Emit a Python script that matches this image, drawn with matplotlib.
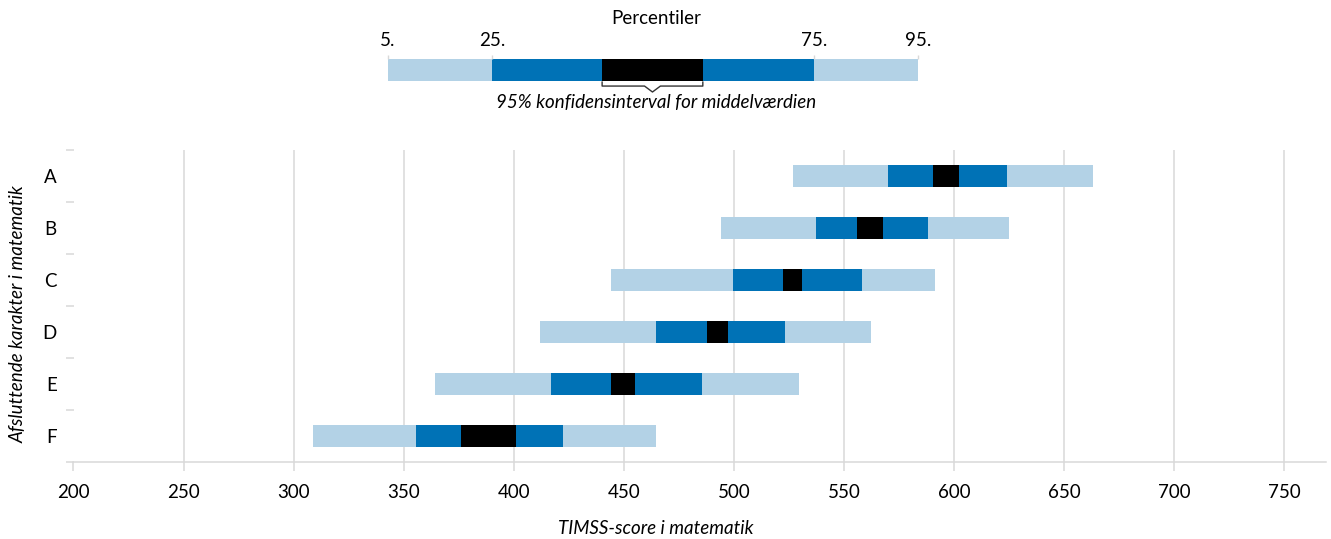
import matplotlib.pyplot as plt
import numpy as np

plt.rcParams.update({
    "font.family": ["Lato", "DejaVu Sans"],
    "font.size": 13.5,
})

grades = ['A', 'B', 'C', 'D', 'E', 'F']
p5 = [526.6, 494.2, 444.2, 411.8, 364.2, 308.9]
p25 = [570.0, 537.4, 499.5, 464.8, 417.1, 355.6]
ci_low = [590.6, 555.9, 522.3, 487.7, 444.2, 376.0]
ci_high = [602.4, 567.9, 530.9, 497.3, 455.1, 401.0]
p75 = [624.1, 588.3, 558.0, 523.3, 485.5, 422.5]
p95 = [663.0, 625.1, 591.5, 562.3, 529.7, 464.7]

x_ticks = list(range(200, 751, 50))

# legend bar, boundaries as fraction of its width
legend_bounds = [0.0, 0.196, 0.404, 0.594, 0.804, 1.0]
legend_labels = ['5.', '25.', '75.', '95.']

light = '#B3D2E6'
dark = '#0072B6'
grid_c = '#D9D9D9'

W, H = 1331, 539
fig = plt.figure(figsize=(W / 100, H / 100), dpi=100)


def px_box(x0, y0, x1, y1):
    return [x0 / W, 1 - y1 / H, (x1 - x0) / W, (y1 - y0) / H]


# main chart
ax = fig.add_axes(px_box(73.5, 150, 1325.7, 462))
y = np.arange(len(grades))
h = 0.41
ax.barh(y, np.subtract(p25, p5), left=p5, height=h, color=light)
ax.barh(y, np.subtract(ci_low, p25), left=p25, height=h, color=dark)
ax.barh(y, np.subtract(ci_high, ci_low), left=ci_low, height=h, color='black')
ax.barh(y, np.subtract(p75, ci_high), left=ci_high, height=h, color=dark)
ax.barh(y, np.subtract(p95, p75), left=p75, height=h, color=light)

ax.set_xlim(200, 768.8)
ax.set_ylim(len(grades) - 0.5, -0.5)
ax.set_xticks(x_ticks)
ax.set_yticks(y)
ax.set_yticklabels(grades)
ax.set_yticks(np.arange(-0.5, len(grades), 1), minor=True)
ax.set_axisbelow(True)
ax.grid(axis='x', color=grid_c, lw=1.1)
for s in ['top', 'right', 'left']:
    ax.spines[s].set_visible(False)
ax.spines['bottom'].set_color(grid_c)
ax.spines['bottom'].set_linewidth(1.1)
ax.tick_params(axis='x', direction='out', length=6.5, width=1.1, color=grid_c, pad=9)
ax.tick_params(axis='y', which='major', length=0, pad=12)
ax.tick_params(axis='y', which='minor', direction='out', length=6, width=1.1, color=grid_c)

fig.text(656 / W, 1 - 528 / H, 'TIMSS-score i matematik', ha='center', va='center',
         style='italic')
fig.text(18 / W, 1 - 314 / H, 'Afsluttende karakter i matematik', ha='center', va='center',
         rotation=90, style='italic')

# legend
lg = fig.add_axes(px_box(388, 59, 918, 81))
seg_colors = [light, dark, 'black', dark, light]
for i, c in enumerate(seg_colors):
    lg.barh(0.5, legend_bounds[i + 1] - legend_bounds[i], left=legend_bounds[i],
            height=1, color=c)
lg.set_xlim(0, 1)
lg.set_ylim(0, 1)
for s in lg.spines.values():
    s.set_visible(False)
lg.set_yticks([])
lg.xaxis.tick_top()
lg.set_xticks([legend_bounds[0], legend_bounds[1], legend_bounds[4], legend_bounds[5]])
lg.set_xticklabels(legend_labels)
lg.tick_params(axis='x', direction='out', length=3, width=1, color=grid_c, pad=4)

# bracket under the confidence interval
b0, b1 = legend_bounds[2], legend_bounds[3]
bm = (b0 + b1) / 2
lg.plot([b0, b0, bm - 0.015, bm, bm + 0.015, b1, b1],
        [-0.05, -0.23, -0.23, -0.5, -0.23, -0.23, -0.05],
        color='#333333', lw=1, clip_on=False)

fig.text(656 / W, 1 - 103 / H, '95% konfidensinterval for middelværdien', ha='center',
         va='center', style='italic')
fig.text(656 / W, 1 - 18 / H, 'Percentiler', ha='center', va='center')

fig.savefig('out.png', dpi=100)
